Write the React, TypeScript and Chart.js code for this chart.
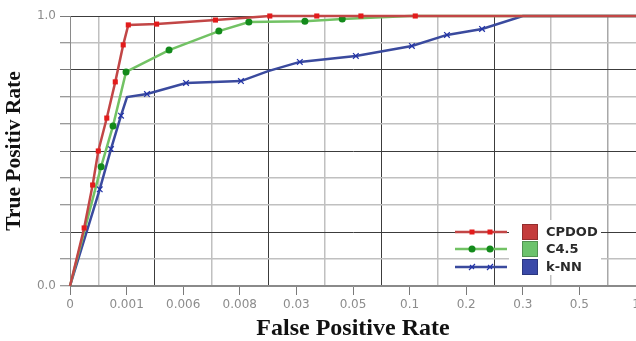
import React, { useEffect, useRef } from 'react';
import { Chart, registerables } from 'chart.js';

Chart.register(...registerables);

// X axis: FPR tick labels, equally spaced (position = index)
const xTickLabels = ['0', '0.001', '0.006', '0.008', '0.03', '0.05', '0.1', '0.2', '0.3', '0.5', '1'];
const xGridValues = [0.5, 1.5, 2.5, 3.5, 4.5, 5.5, 6.5, 7.5, 8.5, 9.5];
const yTickValues = [0, 0.1, 0.2, 0.3, 0.4, 0.5, 0.6, 0.7, 0.8, 0.9, 1.0];
const yTickLabels = ['0.0', '', '', '', '', '', '', '', '', '', '1.0'];

const seriesNames = ['CPDOD', 'C4.5', 'k-NN'];

// x values are positions along the FPR axis, in tick steps
const cpdodX = [0, 0.25, 0.40, 0.50, 0.65, 0.80, 0.94, 1.03, 1.53, 2.57, 3.53, 4.36, 5.14, 6.10, 10];
const cpdodY = [0, 0.215, 0.374, 0.50, 0.622, 0.756, 0.893, 0.967, 0.970, 0.985, 1.0, 1.0, 1.0, 1.0, 1.0];
const cpdodMark = [0, 1, 1, 1, 1, 1, 1, 1, 1, 1, 1, 1, 1, 1, 0];

const c45X = [0, 0.55, 0.76, 0.99, 1.75, 2.63, 3.16, 4.15, 4.81, 6.0, 10];
const c45Y = [0, 0.442, 0.593, 0.793, 0.874, 0.944, 0.978, 0.981, 0.989, 1.0, 1.0];
const c45Mark = [0, 1, 1, 1, 1, 1, 1, 1, 1, 0, 0];

const knnX = [0, 0.525, 0.724, 0.901, 1.007, 1.36, 2.05, 3.02, 3.50, 4.06, 5.05, 6.04, 6.66, 7.28, 8.0, 10];
const knnY = [0, 0.358, 0.507, 0.631, 0.700, 0.711, 0.752, 0.759, 0.796, 0.830, 0.852, 0.889, 0.930, 0.952, 1.0, 1.0];
const knnMark = [0, 1, 1, 1, 0, 1, 1, 1, 0, 1, 1, 1, 1, 1, 0, 0];

const lineColors = ['#c24646', '#72c264', '#3a4a9e'];
const markColors = ['#e31b1b', '#138a1b', '#2233a8'];
const boxColors = ['#c43c3c', '#6cc36c', '#3a49a8'];

const DARK = '#3c3c3c';
const LIGHT = '#c0c0c0';

const legendPlugin = {
  id: 'rocLegend',
  afterDraw(chart: any) {
    const ctx: CanvasRenderingContext2D = chart.ctx;
    const area = chart.chartArea;
    const baseX = area.right - 181;
    const rowY = [area.top + 216, area.top + 233, area.top + 251];
    ctx.save();
    ctx.fillStyle = '#ffffff';
    ctx.fillRect(baseX + 54, area.top + 204, 92, 55);
    seriesNames.forEach((name, i) => {
      const y = rowY[i];
      ctx.strokeStyle = lineColors[i];
      ctx.lineWidth = 2.5;
      ctx.beginPath();
      ctx.moveTo(baseX, y);
      ctx.lineTo(baseX + 52, y);
      ctx.stroke();
      [baseX + 17, baseX + 35].forEach((mx) => {
        ctx.fillStyle = markColors[i];
        ctx.strokeStyle = markColors[i];
        if (i === 0) {
          ctx.fillRect(mx - 2.5, y - 2.5, 5, 5);
        } else if (i === 1) {
          ctx.beginPath();
          ctx.arc(mx, y, 3.5, 0, Math.PI * 2);
          ctx.fill();
        } else {
          ctx.lineWidth = 1.2;
          ctx.beginPath();
          ctx.moveTo(mx - 3, y + 3);
          ctx.lineTo(mx + 3, y - 3);
          ctx.moveTo(mx - 2, y - 2);
          ctx.lineTo(mx + 2, y + 2);
          ctx.stroke();
        }
      });
      ctx.fillStyle = boxColors[i];
      ctx.fillRect(baseX + 67, y - 8, 16, 16);
      ctx.strokeStyle = 'rgba(0,0,0,0.25)';
      ctx.lineWidth = 1;
      ctx.strokeRect(baseX + 67.5, y - 7.5, 15, 15);
      ctx.fillStyle = '#2a2a2a';
      ctx.font = 'bold 13px "DejaVu Sans"';
      ctx.textBaseline = 'middle';
      ctx.textAlign = 'left';
      ctx.fillText(name, baseX + 91, y + 1);
    });
    ctx.restore();
  },
};

function makeData(xs: number[], ys: number[]) {
  return xs.map((x, i) => ({ x, y: ys[i] }));
}

export default function App() {
  const ref = useRef<HTMLCanvasElement | null>(null);

  useEffect(() => {
    document.body.style.margin = '0';
    const canvas = ref.current;
    if (!canvas) return;
    const chart = new Chart(canvas, {
      type: 'line',
      data: {
        datasets: [
          {
            label: seriesNames[0],
            data: makeData(cpdodX, cpdodY),
            borderColor: lineColors[0],
            borderWidth: 2.5,
            pointStyle: 'rect',
            pointRadius: cpdodMark.map((m) => (m ? 3.6 : 0)),
            pointBackgroundColor: markColors[0],
            pointBorderColor: markColors[0],
            pointBorderWidth: 0,
            tension: 0,
            clip: false as any,
            xAxisID: 'x',
            yAxisID: 'y',
          },
          {
            label: seriesNames[1],
            data: makeData(c45X, c45Y),
            borderColor: lineColors[1],
            borderWidth: 2.5,
            pointStyle: 'circle',
            pointRadius: c45Mark.map((m) => (m ? 3.5 : 0)),
            pointBackgroundColor: markColors[1],
            pointBorderColor: markColors[1],
            pointBorderWidth: 0,
            tension: 0,
            clip: false as any,
            xAxisID: 'x',
            yAxisID: 'y',
          },
          {
            label: seriesNames[2],
            data: makeData(knnX, knnY),
            borderColor: lineColors[2],
            borderWidth: 2.5,
            pointStyle: 'crossRot',
            pointRadius: knnMark.map((m) => (m ? 4 : 0)),
            pointBackgroundColor: markColors[2],
            pointBorderColor: markColors[2],
            pointBorderWidth: 1.2,
            tension: 0,
            clip: false as any,
            xAxisID: 'x',
            yAxisID: 'y',
          },
        ],
      },
      options: {
        animation: false,
        responsive: false,
        events: [],
        layout: { padding: { top: 16, right: 0, left: 0, bottom: 0 } },
        plugins: {
          legend: { display: false },
          tooltip: { enabled: false },
        },
        scales: {
          x: {
            type: 'linear',
            position: 'bottom',
            min: 0,
            max: 10,
            afterBuildTicks: (s: any) => {
              s.ticks = xTickLabels.map((_, i) => ({ value: i }));
            },
            ticks: {
              callback: (v: any) => xTickLabels[Math.round(Number(v))] ?? '',
              autoSkip: false,
              maxRotation: 0,
              color: '#8c8c8c',
              font: { family: 'DejaVu Sans', size: 12 },
              padding: 3,
            },
            grid: { drawOnChartArea: false, tickLength: 9, tickColor: '#7a7a7a', tickWidth: 1 },
            border: { color: '#8a8a8a', width: 1 },
            title: {
              display: true,
              text: 'False Positive Rate',
              color: '#111111',
              font: { family: 'Liberation Serif', size: 24, weight: 'bold', lineHeight: 1 },
              padding: { top: 0, bottom: 0 },
            },
            afterFit: (s: any) => {
              s.height = 55;
              s.paddingLeft = 0;
              s.paddingRight = 0;
            },
          },
          x2: {
            type: 'linear',
            axis: 'x',
            position: 'bottom',
            min: 0,
            max: 10,
            afterBuildTicks: (s: any) => {
              s.ticks = xGridValues.map((v) => ({ value: v }));
            },
            ticks: { display: false },
            grid: {
              drawTicks: false,
              color: (c: any) => (c.index % 2 === 1 && c.index < 9 ? DARK : c.index === 9 ? '#a8a8a8' : LIGHT),
              lineWidth: (c: any) => (c.index % 2 === 1 && c.index < 9 ? 1 : 1.5),
            },
            border: { display: false },
            afterFit: (s: any) => {
              s.height = 0;
              s.paddingLeft = 0;
              s.paddingRight = 0;
            },
          },
          y: {
            type: 'linear',
            min: 0,
            max: 1,
            afterBuildTicks: (s: any) => {
              s.ticks = yTickValues.map((v) => ({ value: v }));
            },
            ticks: {
              callback: (_v: any, i: number) => yTickLabels[i] ?? '',
              autoSkip: false,
              color: '#8c8c8c',
              font: { family: 'DejaVu Sans', size: 12 },
              padding: 4,
            },
            grid: {
              color: (c: any) => ([2, 5, 8, 10].includes(c.index) ? DARK : c.index === 0 ? '#8a8a8a' : LIGHT),
              lineWidth: (c: any) => ([2, 5, 8, 10].includes(c.index) ? 1 : 1.5),
              tickColor: '#7a7a7a',
              tickLength: 10,
              tickWidth: 1,
            },
            border: { color: '#8a8a8a', width: 1 },
            title: {
              display: true,
              text: 'True Positiv Rate',
              color: '#111111',
              font: { family: 'Liberation Serif', size: 21.5, weight: 'bold', lineHeight: 1 },
              padding: { top: 4, bottom: 0 },
            },
            afterFit: (s: any) => {
              s.width = 70;
              s.paddingTop = 0;
              s.paddingBottom = 0;
            },
          },
        },
      } as any,
      plugins: [legendPlugin],
    });
    return () => chart.destroy();
  }, []);

  return (
    <div style={{ width: 636, height: 341 }}>
      <canvas ref={ref} width={636} height={341} style={{ display: 'block' }} />
    </div>
  );
}
